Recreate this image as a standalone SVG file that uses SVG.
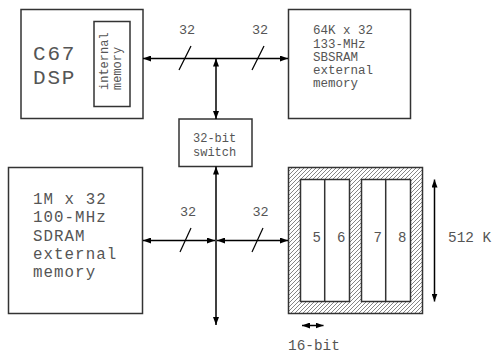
<svg xmlns="http://www.w3.org/2000/svg" width="493" height="354" viewBox="0 0 493 354">
<style>
.box{fill:#fff;stroke:#333;stroke-width:1.5}
.t{font-family:"Liberation Mono","DejaVu Sans Mono",monospace;fill:#555}
.c{stroke:#000;stroke-width:1.5;fill:none}
.s{stroke:#000;stroke-width:1.2}
</style>
<defs>
<marker id="ah" viewBox="0 0 8 6" refX="8" refY="3" markerWidth="8" markerHeight="6" markerUnits="userSpaceOnUse" orient="auto-start-reverse">
<path d="M0,0 L8,3 L0,6 z" fill="#000"/>
</marker>
<pattern id="hatch" patternUnits="userSpaceOnUse" width="4" height="4">
<path d="M-1,1 l2,-2 M0,4 l4,-4 M3,5 l2,-2" stroke="#666" stroke-width="0.8"/>
</pattern>
</defs>
<g id="dsp">
<rect class="box" x="21" y="9.5" width="122" height="109"/>
<text class="t" font-size="21" letter-spacing="1.8"><tspan x="33" y="60">C67</tspan><tspan x="33" y="84">DSP</tspan></text>
<rect class="box" x="94" y="21.5" width="36" height="85"/>
<text class="t" font-size="12" transform="translate(108,90) rotate(-90)"><tspan x="0" y="0">internal</tspan><tspan x="0" y="13">memory</tspan></text>
</g>
<g id="sbsram">
<rect class="box" x="288.5" y="9.5" width="122" height="109"/>
<text class="t" font-size="12.5"><tspan x="313" y="34">64K x 32</tspan><tspan x="313" y="47.5">133-MHz</tspan><tspan x="313" y="61">SBSRAM</tspan><tspan x="313" y="74">external</tspan><tspan x="313" y="87">memory</tspan></text>
</g>
<g id="switch">
<rect class="box" x="179" y="119" width="73" height="47.5"/>
<text class="t" font-size="12"><tspan x="193" y="141.5">32-bit</tspan><tspan x="193" y="155.5">switch</tspan></text>
</g>
<g id="sdram">
<rect class="box" x="8.5" y="167.5" width="134" height="146"/>
<text class="t" font-size="15.8" letter-spacing="1.05"><tspan x="33" y="204">1M x 32</tspan><tspan x="33" y="222">100-MHz</tspan><tspan x="33" y="241">SDRAM</tspan><tspan x="33" y="259">external</tspan><tspan x="33" y="277">memory</tspan></text>
</g>
<g id="banks">
<rect x="288.5" y="167.5" width="134" height="146" fill="url(#hatch)" stroke="#333" stroke-width="1.5"/>
<rect class="box" x="300.5" y="179.5" width="49" height="122"/>
<line x1="324.7" y1="179.5" x2="324.7" y2="301.5" stroke="#333" stroke-width="1.5"/>
<rect class="box" x="361.5" y="179.5" width="49" height="122"/>
<line x1="385.7" y1="179.5" x2="385.7" y2="301.5" stroke="#333" stroke-width="1.5"/>
<text class="t" font-size="14" x="321" y="242" text-anchor="end">5</text>
<text class="t" font-size="14" x="345.5" y="242" text-anchor="end">6</text>
<text class="t" font-size="14" x="382" y="242" text-anchor="end">7</text>
<text class="t" font-size="14" x="406.5" y="242" text-anchor="end">8</text>
<text class="t" font-size="14.4" x="448" y="242">512 K</text>
<text class="t" font-size="14.4" x="288" y="350">16-bit</text>
</g>
<g id="connectors">
<line class="c" x1="143" y1="58.5" x2="288" y2="58.5" marker-start="url(#ah)" marker-end="url(#ah)"/>
<line class="c" x1="216" y1="58.5" x2="216" y2="119" marker-start="url(#ah)" marker-end="url(#ah)"/>
<line class="c" x1="216" y1="166.5" x2="216" y2="325" marker-start="url(#ah)" marker-end="url(#ah)"/>
<line class="c" x1="143" y1="240.5" x2="215" y2="240.5" marker-start="url(#ah)" marker-end="url(#ah)"/>
<line class="c" x1="217" y1="240.5" x2="288" y2="240.5" marker-start="url(#ah)" marker-end="url(#ah)"/>
<line class="c" x1="434.5" y1="179.5" x2="434.5" y2="301.5" marker-start="url(#ah)" marker-end="url(#ah)"/>
<line class="c" x1="302" y1="325.5" x2="323.5" y2="325.5" marker-start="url(#ah)" marker-end="url(#ah)"/>
<line class="s" x1="179" y1="70" x2="191" y2="46"/>
<line class="s" x1="252" y1="70" x2="264" y2="46"/>
<line class="s" x1="180" y1="252" x2="191" y2="228"/>
<line class="s" x1="252" y1="252" x2="263" y2="228"/>
<text class="t" font-size="13.5" x="179" y="33.5">32</text>
<text class="t" font-size="13.5" x="252" y="33.5">32</text>
<text class="t" font-size="13.5" x="180" y="216">32</text>
<text class="t" font-size="13.5" x="252.5" y="216">32</text>
</g>
</svg>
